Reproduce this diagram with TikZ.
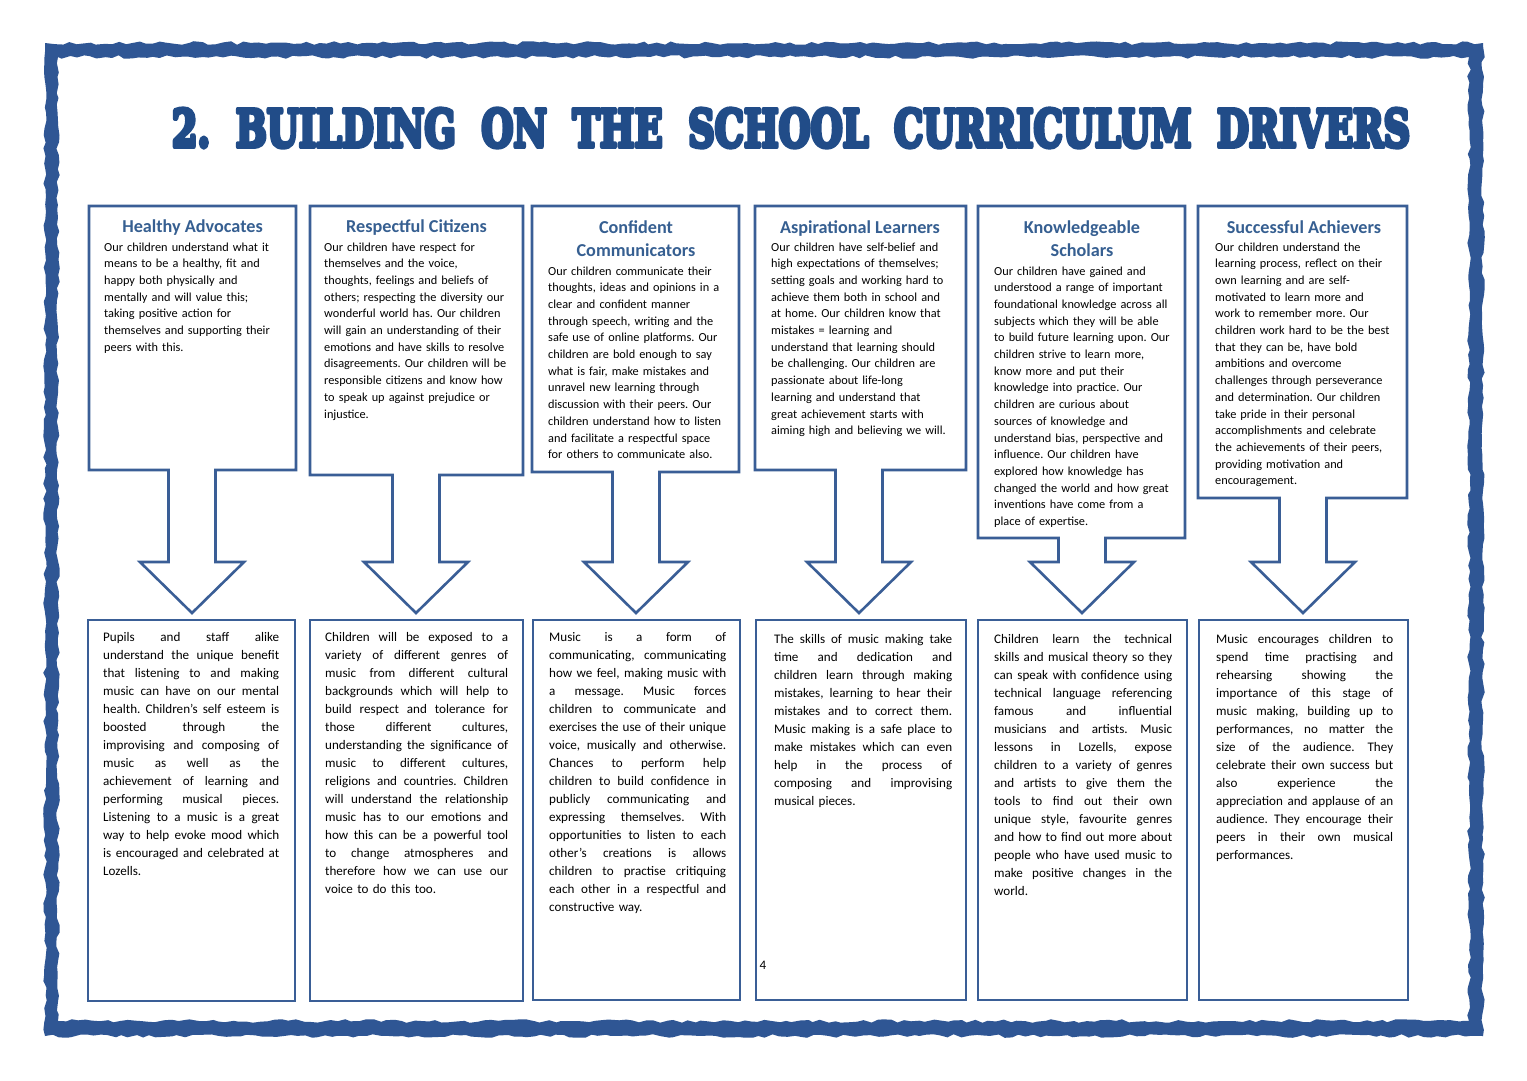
\documentclass[tikz,border=0pt]{standalone}
\usepackage{fontspec}
\setmainfont{Carlito}
\newfontfamily\titlefont{DejaVu Serif}
\usetikzlibrary{decorations.pathmorphing}
\definecolor{frameblue}{HTML}{2F5694}
\definecolor{boxblue}{HTML}{3A5E96}
\definecolor{headblue}{HTML}{365F91}
\definecolor{titleblue}{HTML}{214C88}
\frenchspacing
\newcommand\bw{170pt}
\newcommand\J[1]{\leavevmode\hbox to \bw{\spaceskip=\fontdimen2\font plus 1fil minus 0.3\fontdimen2\font\relax #1}}
\newcommand\callout[4]{%
  \draw[boxline] (#1,206) -- (#2,206) -- (#2,#3) -- (#4+23.5,#3) -- (#4+23.5,562)
    -- (#4+52,562) -- (#4,613) -- (#4-52,562) -- (#4-23.5,562) -- (#4-23.5,#3)
    -- (#1,#3) -- cycle;}
\begin{document}
\begin{tikzpicture}[x=1pt,y=-1pt,
  boxline/.style={draw=boxblue, line width=2.6pt, fill=white, line join=miter},
  headtext/.style={anchor=base, inner sep=0pt, text=headblue, font=\fontsize{18.2}{22}\selectfont\bfseries},
  topbody/.style={anchor=base west, inner sep=0pt, text width=200pt, align=left, font=\fontsize{12.3}{16.7}\selectfont},
  botbody/.style={anchor=base west, inner sep=0pt, align=left, text width=#1,
    execute at begin node={\def\bw{#1}}, font=\fontsize{13.1}{18}\selectfont}]
\useasboundingbox (0,0) rectangle (1527,1080);
\fill[white] (0,0) rectangle (1527,1080);
\pgfmathsetseed{11}
\fill[frameblue, even odd rule, decorate, decoration={random steps, segment length=7pt, amplitude=1.8pt}]
  (45,43) rectangle (1483,1036) (58,57) rectangle (1469,1021);
\node[inner sep=0pt, text=titleblue] (title) at (791,128)
  {\resizebox{1238pt}{38pt}{\titlefont\bfseries\special{pdf:literal direct 0.129 0.298 0.533 RG 0.9 w 1 j 2 Tr}2.\ \ BUILDING\ \ ON\ \ THE\ \ SCHOOL\ \ CURRICULUM\ \ DRIVERS\special{pdf:literal direct 0 Tr}}};
% top callouts
\callout{89}{296}{470}{192}
\callout{310}{523}{475}{416}
\callout{532}{739}{472}{636}
\callout{755}{966}{470}{859}
\callout{978}{1185}{538}{1082}
\callout{1198}{1407}{498}{1303}
% bottom boxes
\draw[boxline] (88,620) rectangle (295,1001);
\draw[boxline] (310,620) rectangle (523,1001);
\draw[boxline] (533,620) rectangle (740,1000);
\draw[boxline] (756,620) rectangle (966,1000);
\draw[boxline] (978,620) rectangle (1187,1000);
\draw[boxline] (1199,620) rectangle (1408,1000);
% headings
\node[headtext] (h1) at (192.5,232) {Healthy Advocates};
\node[headtext] (h2) at (416.5,232) {Respectful Citizens};
\node[headtext] (h3a) at (636,233) {Confident};
\node[headtext] (h3b) at (636,256) {Communicators};
\node[headtext] (h4) at (860,233) {Aspirational Learners};
\node[headtext] (h5a) at (1082,233) {Knowledgeable};
\node[headtext] (h5b) at (1082,256) {Scholars};
\node[headtext] (h6) at (1304,233) {Successful Achievers};
% top bodies
\node[topbody] (t1) at (104,251) {Our children understand what it\\
means to be a healthy, fit and\\
happy both physically and\\
mentally and will value this;\\
taking positive action for\\
themselves and supporting their\\
peers with this.};
\node[topbody] (t2) at (324,251) {Our children have respect for\\
themselves and the voice,\\
thoughts, feelings and beliefs of\\
others; respecting the diversity our\\
wonderful world has. Our children\\
will gain an understanding of their\\
emotions and have skills to resolve\\
disagreements. Our children will be\\
responsible citizens and know how\\
to speak up against prejudice or\\
injustice.};
\node[topbody] (t3) at (548,275) {Our children communicate their\\
thoughts, ideas and opinions in a\\
clear and confident manner\\
through speech, writing and the\\
safe use of online platforms. Our\\
children are bold enough to say\\
what is fair, make mistakes and\\
unravel new learning through\\
discussion with their peers. Our\\
children understand how to listen\\
and facilitate a respectful space\\
for others to communicate also.};
\node[topbody] (t4) at (771,251) {Our children have self-belief and\\
high expectations of themselves;\\
setting goals and working hard to\\
achieve them both in school and\\
at home. Our children know that\\
mistakes = learning and\\
understand that learning should\\
be challenging. Our children are\\
passionate about life-long\\
learning and understand that\\
great achievement starts with\\
aiming high and believing we will.};
\node[topbody] (t5) at (994,275) {Our children have gained and\\
understood a range of important\\
foundational knowledge across all\\
subjects which they will be able\\
to build future learning upon. Our\\
children strive to learn more,\\
know more and put their\\
knowledge into practice. Our\\
children are curious about\\
sources of knowledge and\\
understand bias, perspective and\\
influence. Our children have\\
explored how knowledge has\\
changed the world and how great\\
inventions have come from a\\
place of expertise.};
\node[topbody] (t6) at (1215,251) {Our children understand the\\
learning process, reflect on their\\
own learning and are self-\\
motivated to learn more and\\
work to remember more. Our\\
children work hard to be the best\\
that they can be, have bold\\
ambitions and overcome\\
challenges through perseverance\\
and determination. Our children\\
take pride in their personal\\
accomplishments and celebrate\\
the achievements of their peers,\\
providing motivation and\\
encouragement.};
% bottom bodies
\node[botbody=176pt] (b1) at (103,641) {\J{Pupils and staff alike}\\
\J{understand the unique benefit}\\
\J{that listening to and making}\\
\J{music can have on our mental}\\
\J{health. Children’s self esteem is}\\
\J{boosted through the}\\
\J{improvising and composing of}\\
\J{music as well as the}\\
\J{achievement of learning and}\\
\J{performing musical pieces.}\\
\J{Listening to a music is a great}\\
\J{way to help evoke mood which}\\
\J{is encouraged and celebrated at}\\
Lozells.};
\node[botbody=183pt] (b2) at (325,641) {\J{Children will be exposed to a}\\
\J{variety of different genres of}\\
\J{music from different cultural}\\
\J{backgrounds which will help to}\\
\J{build respect and tolerance for}\\
\J{those different cultures,}\\
\J{understanding the significance of}\\
\J{music to different cultures,}\\
\J{religions and countries. Children}\\
\J{will understand the relationship}\\
\J{music has to our emotions and}\\
\J{how this can be a powerful tool}\\
\J{to change atmospheres and}\\
\J{therefore how we can use our}\\
voice to do this too.};
\node[botbody=177pt] (b3) at (549,641) {\J{Music is a form of}\\
\J{communicating, communicating}\\
\J{how we feel, making music with}\\
\J{a message. Music forces}\\
\J{children to communicate and}\\
\J{exercises the use of their unique}\\
\J{voice, musically and otherwise.}\\
\J{Chances to perform help}\\
\J{children to build confidence in}\\
\J{publicly communicating and}\\
\J{expressing themselves. With}\\
\J{opportunities to listen to each}\\
\J{other’s creations is allows}\\
\J{children to practise critiquing}\\
\J{each other in a respectful and}\\
constructive way.};
\node[botbody=178pt] (b4) at (774,643) {\J{The skills of music making take}\\
\J{time and dedication and}\\
\J{children learn through making}\\
\J{mistakes, learning to hear their}\\
\J{mistakes and to correct them.}\\
\J{Music making is a safe place to}\\
\J{make mistakes which can even}\\
\J{help in the process of}\\
\J{composing and improvising}\\
musical pieces.};
\node[botbody=178pt] (b5) at (994,643) {\J{Children learn the technical}\\
\J{skills and musical theory so they}\\
\J{can speak with confidence using}\\
\J{technical language referencing}\\
\J{famous and influential}\\
\J{musicians and artists. Music}\\
\J{lessons in Lozells, expose}\\
\J{children to a variety of genres}\\
\J{and artists to give them the}\\
\J{tools to find out their own}\\
\J{unique style, favourite genres}\\
\J{and how to find out more about}\\
\J{people who have used music to}\\
\J{make positive changes in the}\\
world.};
\node[botbody=177pt] (b6) at (1216,643) {\J{Music encourages children to}\\
\J{spend time practising and}\\
\J{rehearsing showing the}\\
\J{importance of this stage of}\\
\J{music making, building up to}\\
\J{performances, no matter the}\\
\J{size of the audience. They}\\
\J{celebrate their own success but}\\
\J{also experience the}\\
\J{appreciation and applause of an}\\
\J{audience. They encourage their}\\
\J{peers in their own musical}\\
performances.};
\node[inner sep=0pt, font=\fontsize{13}{15}\selectfont] (pg) at (763,965) {4};
\end{tikzpicture}
\end{document}
